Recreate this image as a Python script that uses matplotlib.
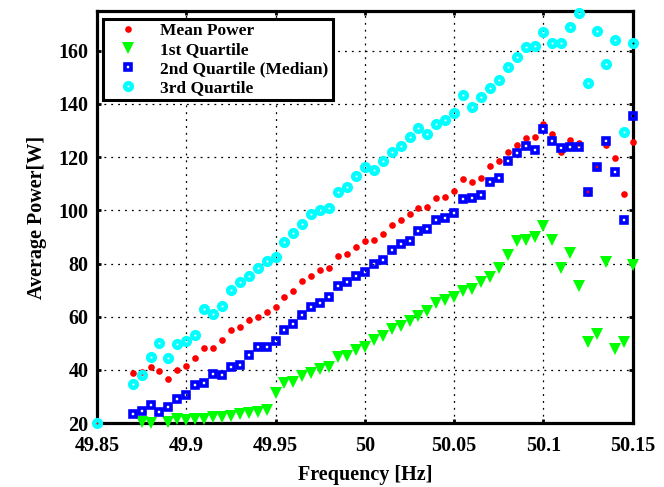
import numpy as np
import matplotlib
matplotlib.use('Agg')
import matplotlib.pyplot as plt
from matplotlib.ticker import FixedLocator, FuncFormatter

# frequency bins [Hz]
freq = [49.85,
        49.870, 49.875, 49.880, 49.885, 49.890, 49.895, 49.900, 49.905, 49.910, 49.915,
        49.920, 49.925, 49.930, 49.935, 49.940, 49.945, 49.950, 49.955, 49.960, 49.965,
        49.970, 49.975, 49.980, 49.985, 49.990, 49.995, 50.000, 50.005, 50.010, 50.015,
        50.020, 50.025, 50.030, 50.035, 50.040, 50.045, 50.050, 50.055, 50.060, 50.065,
        50.070, 50.075, 50.080, 50.085, 50.090, 50.095, 50.100, 50.105, 50.110, 50.115,
        50.120, 50.125, 50.130, 50.135, 50.140, 50.145, 50.150]

nan = np.nan

mean_power = [20.0,
              38.8, 39.4, 41.0, 39.7, 36.7, 40.1, 41.6, 44.6, 48.2, 48.2,
              51.1, 54.9, 56.1, 58.9, 59.9, 61.9, 63.7, 67.5, 69.7, 73.4,
              75.4, 77.4, 78.4, 82.8, 83.6, 86.1, 88.3, 89.0, 91.0, 94.3,
              96.3, 98.5, 100.8, 101.1, 104.5, 105.0, 107.4, 111.9, 110.5, 112.3,
              116.5, 118.6, 121.9, 124.7, 127.1, 127.4, 132.5, 128.8, 121.9, 126.3,
              125.3, 106.6, 115.9, 124.7, 119.6, 106.1, 125.6]

q1 = [nan,
      nan, 20.5, 20.0, nan, 20.6, 21.6, 21.2, 21.6, 21.7, 22.2,
      22.5, 22.7, 23.5, 23.8, 24.1, 25.0, 31.3, 35.0, 35.5, 37.6,
      39.0, 40.4, 41.0, 45.0, 45.3, 47.5, 48.7, 51.2, 52.8, 55.4,
      56.5, 58.4, 60.4, 62.3, 65.3, 66.2, 67.3, 69.8, 70.6, 73.2,
      75.1, 78.2, 83.3, 88.4, 88.9, 89.8, 94.1, 89.0, 78.4, 83.8,
      71.4, 50.6, 53.5, 80.6, 47.8, 50.6, 79.4]

median = [nan,
          23.4, 24.6, 27.0, 24.2, 26.2, 29.1, 30.6, 34.3, 35.0, 38.4,
          38.0, 41.0, 41.8, 45.7, 48.5, 48.6, 51.0, 55.0, 57.4, 60.5,
          63.6, 65.2, 67.3, 71.6, 73.0, 75.5, 76.8, 79.8, 81.4, 84.9,
          87.5, 88.4, 92.2, 93.0, 96.2, 97.1, 98.8, 104.1, 104.8, 105.6,
          110.5, 112.3, 118.4, 121.6, 124.3, 122.8, 130.4, 125.9, 123.4, 123.9,
          123.9, 106.8, 116.4, 125.9, 114.5, 96.3, 135.3]

q3 = [20.0,
      34.9, 38.0, 44.9, 50.1, 44.4, 49.7, 50.8, 53.0, 62.8, 61.0,
      64.0, 69.9, 73.0, 75.4, 78.2, 80.9, 82.6, 88.0, 91.6, 95.0,
      98.5, 100.0, 101.0, 106.8, 108.8, 112.9, 116.3, 115.3, 118.5, 121.9,
      124.1, 127.5, 130.8, 128.8, 132.6, 134.0, 136.4, 143.5, 139.0, 142.5,
      145.9, 148.9, 153.8, 157.5, 161.2, 161.7, 166.9, 162.9, 162.9, 168.8,
      174.2, 147.9, 167.5, 154.9, 164.0, 129.6, 163.0]

x_ticks = [49.85, 49.9, 49.95, 50.0, 50.05, 50.1, 50.15]
y_ticks = [20, 40, 60, 80, 100, 120, 140, 160]

plt.rcParams['font.family'] = 'serif'
plt.rcParams['font.serif'] = ['Liberation Serif', 'DejaVu Serif']
plt.rcParams['font.weight'] = 'bold'

fig = plt.figure(figsize=(6.64, 4.87), dpi=100)
ax = fig.add_axes([0.146, 0.131, 0.807, 0.847])

# scatter style series, markers are not clipped at the frame (like matlab)
ax.plot(freq, mean_power, 'o', color='red', markersize=4.8, markeredgewidth=0,
        label='Mean Power', clip_on=False, zorder=3)
ax.plot(freq, q1, 'v', color='#00ff00', markersize=8.5, markeredgewidth=0,
        label='1st Quartile', clip_on=False, zorder=3)
ax.plot(freq, median, 's', color='blue', markerfacecolor='none', markersize=4.0,
        markeredgewidth=2.6, label='2nd Quartile (Median)', clip_on=False, zorder=3)
ax.plot(freq, q3, 'o', color='cyan', markerfacecolor='none', markersize=4.8,
        markeredgewidth=3.2, label='3rd Quartile', clip_on=False, zorder=3)

ax.set_xlim(49.85, 50.15)
ax.set_ylim(20, 175)
ax.xaxis.set_major_locator(FixedLocator(x_ticks))
ax.yaxis.set_major_locator(FixedLocator(y_ticks))
ax.xaxis.set_major_formatter(FuncFormatter(lambda v, p: '%g' % round(v, 3)))
ax.tick_params(direction='in', length=3, width=2, labelsize=14.5,
               top=True, right=True)
ax.tick_params(axis='x', pad=9)
ax.tick_params(axis='y', pad=6)

ax.grid(True, color='black', linestyle=(0, (1.5, 4)), linewidth=0.9)
ax.set_axisbelow(True)
for s in ax.spines.values():
    s.set_linewidth(2.3)

ax.set_xlabel('Frequency [Hz]', fontsize=14.5, fontweight='bold', labelpad=7)
ax.set_ylabel('Average Power[W]', fontsize=14.5, fontweight='bold', labelpad=8)

leg = ax.legend(loc='upper left', bbox_to_anchor=(0.011, 0.98), borderaxespad=0,
                fancybox=False, edgecolor='black', framealpha=1, fontsize=12.5,
                handlelength=2.4, handletextpad=0.65, labelspacing=0.15,
                borderpad=0.25, numpoints=1)
leg.get_frame().set_linewidth(2.2)

plt.savefig('out.png', dpi=100)
